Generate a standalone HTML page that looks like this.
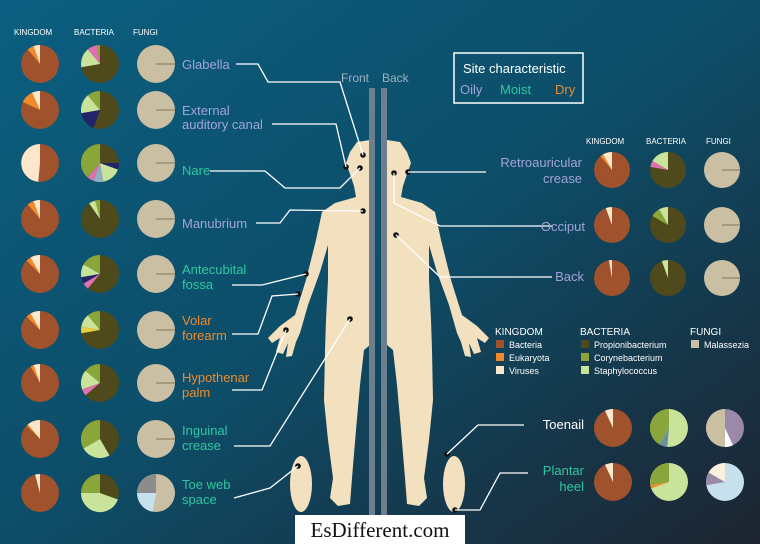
<!DOCTYPE html>
<html><head><style>
html,body{margin:0;padding:0;width:760px;height:544px;overflow:hidden}
svg{display:block;font-family:"Liberation Sans",sans-serif}
</style></head><body>
<svg id="s" width="760" height="544" viewBox="0 0 760 544">
<defs>
<linearGradient id="bg" x1="0" y1="0" x2="1" y2="1">
<stop offset="0" stop-color="#0b5f80"/><stop offset="0.5" stop-color="#0d4d68"/><stop offset="1" stop-color="#1d2430"/>
</linearGradient>
</defs>
<rect width="760" height="544" fill="url(#bg)"/>
<g font-size="8" fill="#fff">
<text x="14" y="35">KINGDOM</text><text x="74" y="35">BACTERIA</text><text x="133" y="35">FUNGI</text>
<text x="586" y="144">KINGDOM</text><text x="646" y="144">BACTERIA</text><text x="706" y="144">FUNGI</text>
</g>
<g id="pies"></g>
<!-- body -->
<g fill="#f3e0bf">
<path id="half" d="M370 140 L357 142 L350 152 L346 163 L350 174 L354 186 L356 197 L335 203 L322 212 L316 240 L306 280 L295 315 L280 326 L268 338 L272 343 L280 338 L276 352 L283 354 L288 343 L286 357 L292 356 L296 342 L300 333 L308 305 L320 272 L328 245 L328 280 L326 320 L325 350 L324 400 L328 440 L333 478 L330 498 L338 506 L350 504 L352 478 L356 430 L360 385 L364 350 L370 345 Z"/>
<path d="M387 140 L400 142 L407 152 L411 163 L407 174 L403 186 L401 197 L422 203 L435 212 L441 240 L451 280 L462 315 L477 326 L489 338 L485 343 L477 338 L481 352 L474 354 L469 343 L471 357 L465 356 L461 342 L457 333 L449 305 L437 272 L429 245 L429 280 L431 320 L432 350 L433 400 L429 440 L424 478 L427 498 L419 506 L407 504 L405 478 L401 430 L397 385 L393 350 L387 345 Z"/>
<ellipse cx="301" cy="484" rx="11" ry="28"/><ellipse cx="454" cy="484" rx="11" ry="28"/>
</g>
<rect x="369" y="88" width="6" height="430" fill="#6d7f8c"/><rect x="381" y="88" width="6" height="430" fill="#6d7f8c"/>
<g fill="#111">
<circle cx="363" cy="155" r="2.8"/><circle cx="360" cy="168" r="2.8"/><circle cx="346" cy="167" r="2.8"/><circle cx="363" cy="211" r="2.8"/>
<circle cx="306" cy="274" r="2.8"/><circle cx="298" cy="294" r="2.8"/><circle cx="286" cy="330" r="2.8"/><circle cx="350" cy="319" r="2.8"/>
<circle cx="298" cy="466" r="2.8"/><circle cx="394" cy="173" r="2.8"/><circle cx="408" cy="172" r="2.8"/><circle cx="396" cy="235" r="2.8"/>
<circle cx="447" cy="454" r="2.8"/><circle cx="455" cy="510" r="2.8"/>
</g>
<g fill="none" stroke="#fff" stroke-width="1.3">
<path d="M236 64 L258 64 L268 82 L340 82 L363 155"/>
<path d="M272 124 L336 124 L346 167"/>
<path d="M210 171 L265 171 L285 188 L340 188 L360 168"/>
<path d="M256 223 L280 223 L290 210 L363 211"/>
<path d="M232 285 L262 285 L306 274"/>
<path d="M232 334 L258 334 L272 296 L298 294"/>
<path d="M232 390 L262 390 L286 330"/>
<path d="M234 446 L270 446 L350 319"/>
<path d="M234 498 L270 488 L298 466"/>
<path d="M408 172 L486 172"/>
<path d="M394 173 L394 203 L440 226 L552 226"/>
<path d="M396 235 L440 277 L552 277"/>
<path d="M447 454 L478 425 L524 425"/>
<path d="M455 510 L480 510 L500 473 L528 473"/>
</g>
<text x="341" y="82" fill="#9fb0c0" font-size="12">Front</text><text x="382" y="82" fill="#9fb0c0" font-size="12">Back</text>
<rect x="454" y="53" width="129" height="50" fill="none" stroke="#fff" stroke-width="1.5"/>
<text x="463" y="73" fill="#fff" font-size="13">Site characteristic</text>
<text x="460" y="94" fill="#a0a4dc" font-size="13">Oily</text><text x="500" y="94" fill="#2ec8a0" font-size="13">Moist</text><text x="555" y="94" fill="#f08a2a" font-size="13">Dry</text>
<g font-size="13">
<text x="182" y="69" fill="#a3a3d8">Glabella</text>
<text x="182" y="115" fill="#a3a3d8">External</text><text x="182" y="129" fill="#a3a3d8">auditory canal</text>
<text x="182" y="175" fill="#2ec8a0">Nare</text>
<text x="182" y="228" fill="#a3a3d8">Manubrium</text>
<text x="182" y="274" fill="#2ec8a0">Antecubital</text><text x="182" y="289" fill="#2ec8a0">fossa</text>
<text x="182" y="325" fill="#f08a2a">Volar</text><text x="182" y="340" fill="#f08a2a">forearm</text>
<text x="182" y="382" fill="#f08a2a">Hypothenar</text><text x="182" y="397" fill="#f08a2a">palm</text>
<text x="182" y="435" fill="#2ec8a0">Inguinal</text><text x="182" y="450" fill="#2ec8a0">crease</text>
<text x="182" y="489" fill="#2ec8a0">Toe web</text><text x="182" y="504" fill="#2ec8a0">space</text>
<g text-anchor="end">
<text x="582" y="167" fill="#a3a3d8">Retroauricular</text><text x="582" y="183" fill="#a3a3d8">crease</text>
<text x="585" y="231" fill="#a3a3d8">Occiput</text>
<text x="584" y="281" fill="#a3a3d8">Back</text>
<text x="584" y="429" fill="#fff">Toenail</text>
<text x="584" y="475" fill="#2ec8a0">Plantar</text><text x="584" y="491" fill="#2ec8a0">heel</text>
</g>
</g>
<g font-size="10" fill="#fff">
<text x="495" y="335">KINGDOM</text><text x="580" y="335">BACTERIA</text><text x="690" y="335">FUNGI</text>
<rect x="496" y="340" width="8" height="8" fill="#a0522d"/><text x="509" y="348" font-size="9">Bacteria</text>
<rect x="496" y="353" width="8" height="8" fill="#f08a2a"/><text x="509" y="361" font-size="9">Eukaryota</text>
<rect x="496" y="366" width="8" height="8" fill="#fbe8cc"/><text x="509" y="374" font-size="9">Viruses</text>
<rect x="581" y="340" width="8" height="8" fill="#4e4a1c"/><text x="594" y="348" font-size="9">Propionibacterium</text>
<rect x="581" y="353" width="8" height="8" fill="#8aa63a"/><text x="594" y="361" font-size="9">Corynebacterium</text>
<rect x="581" y="366" width="8" height="8" fill="#c9e39a"/><text x="594" y="374" font-size="9">Staphylococcus</text>
<rect x="691" y="340" width="8" height="8" fill="#cbbfa3"/><text x="704" y="348" font-size="9">Malassezia</text>
</g>
<rect x="295" y="515" width="170" height="29" fill="#fff"/>
<text x="380" y="537" text-anchor="middle" font-family="Liberation Serif,serif" font-size="21" fill="#111">EsDifferent.com</text>
</svg>
<script>
var g=document.getElementById('pies'),NS='http://www.w3.org/2000/svg';
function pie(cx,cy,r,base,w){var c=document.createElementNS(NS,'circle');c.setAttribute('cx',cx);c.setAttribute('cy',cy);c.setAttribute('r',r);c.setAttribute('fill',base);g.appendChild(c);
var a=0;w.forEach(function(s){var a1=a,a2=a+s[0];a=a2;var p=function(t){t=(t-90)*Math.PI/180;return (cx+r*Math.cos(t)).toFixed(1)+' '+(cy+r*Math.sin(t)).toFixed(1)};
var e=document.createElementNS(NS,'path');e.setAttribute('d','M'+cx+' '+cy+' L'+p(-a2)+' A'+r+' '+r+' 0 '+(s[0]>180?1:0)+' 1 '+p(-a1)+'Z');e.setAttribute('fill',s[1]);g.appendChild(e);});}
var K='#a0522d',V='#fbe8cc',E='#f08a2a',P='#4e4a1c',C='#8aa63a',S='#c9e39a',F='#cbbfa3';
var ly=[64,110,163,219,274,330,383,439,493];
var kv=[[[20,V],[20,E]],[[25,V],[40,E]],[[175,V]],[[20,V],[20,E]],[[30,V],[15,E]],[[30,V],[15,E]],[[20,V],[10,E]],[[40,V],[5,E]],[[15,V]]];
var bv=[[[10,C],[30,'#e070b0'],[60,S]],[[40,C],[60,S],[60,'#23236a']],[[140,C],[20,'#e070b0'],[30,'#8fb0c0'],[60,S],[20,'#23236a']],[[15,C],[20,S]],[[60,C],[40,S],[20,'#23236a'],[20,'#e070b0']],[[40,C],[40,S],[20,'#e8d040']],[[50,C],[60,S],[20,'#e070b0']],[[120,C],[90,S]],[[90,C],[160,S]]];
function line(cx,cy,r){var l=document.createElementNS(NS,'line');l.setAttribute('x1',cx);l.setAttribute('y1',cy);l.setAttribute('x2',cx+r);l.setAttribute('y2',cy);l.setAttribute('stroke','#6a5a40');l.setAttribute('stroke-width','0.8');g.appendChild(l);}
ly.forEach(function(y,i){pie(40,y,19,K,kv[i]);pie(100,y,19,P,bv[i]);pie(156,y,19,F,i==8?[[90,'#8c8c8c'],[80,'#c7e0ee']]:[]);if(i<8)line(156,y,19);});
[[170,[[30,V],[10,E]],[[60,S],[20,'#e070b0']]],[225,[[20,V]],[[30,S],[30,C]]],[278,[[10,V]],[[20,S]]]].forEach(function(r){pie(612,r[0],18,K,r[1]);pie(668,r[0],18,P,r[2]);pie(722,r[0],18,F,[]);line(722,r[0],18);});
pie(613,428,19,K,[[25,V]]);pie(669,428,19,S,[[150,C],[25,'#6a8fa0']]);pie(725,428,19,'#9a8aa8',[[180,F],[25,'#fff']]);
pie(613,482,19,K,[[25,V]]);pie(669,482,19,S,[[100,C],[10,E]]);pie(725,482,19,'#c7e0ee',[[60,'#fbf0dc'],[40,'#9a8aa8']]);
</script>
</body></html>
